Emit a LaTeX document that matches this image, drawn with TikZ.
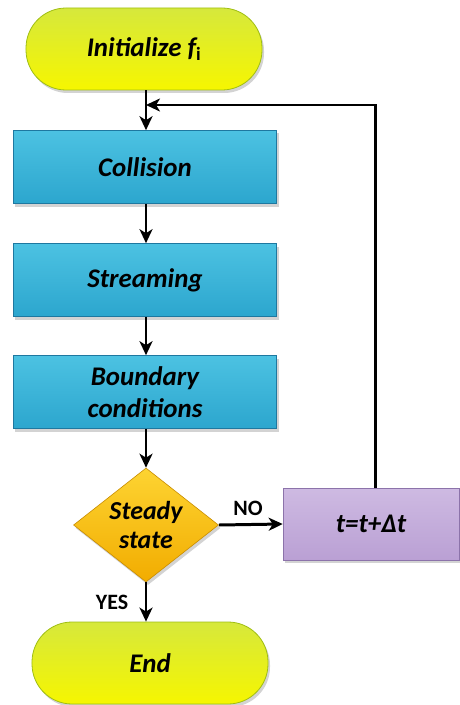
\documentclass[tikz,border=0pt]{standalone}
\usepackage{fontspec}
\setmainfont{Carlito}
\usepackage{tikz}
\usetikzlibrary{positioning,calc}
\usetikzlibrary{arrows.meta,shapes.geometric,shadows}
\definecolor{PillTop}{RGB}{214,232,60}
\definecolor{PillBot}{RGB}{246,246,0}
\definecolor{PillRim}{RGB}{160,190,20}
\definecolor{ProcTop}{RGB}{76,194,226}
\definecolor{ProcBot}{RGB}{44,166,206}
\definecolor{ProcRim}{RGB}{30,120,160}
\definecolor{GoldTop}{RGB}{253,212,50}
\definecolor{GoldBot}{RGB}{242,172,0}
\definecolor{GoldRim}{RGB}{200,140,0}
\definecolor{LilacTop}{RGB}{206,186,226}
\definecolor{LilacBot}{RGB}{186,160,212}
\definecolor{LilacRim}{RGB}{140,115,170}
\tikzset{
  soft/.style={drop shadow={opacity=0.35,shadow xshift=2bp,shadow yshift=-3bp}},
  term/.style={rectangle,rounded corners=40bp,draw=PillRim,line width=0.8pt,
    top color=PillTop,bottom color=PillBot,soft,minimum width=236bp,minimum height=82bp,
    font=\bfseries\itshape\fontsize{27}{32}\selectfont},
  proc/.style={rectangle,draw=ProcRim,line width=0.6pt,top color=ProcTop,bottom color=ProcBot,
    soft,minimum width=263bp,minimum height=73bp,align=center,
    font=\bfseries\itshape\fontsize{27}{32}\selectfont},
  decide/.style={diamond,aspect=1.27,inner sep=0pt,draw=GoldRim,line width=0.6pt,
    top color=GoldTop,bottom color=GoldBot,soft,minimum width=145bp,minimum height=114bp,
    align=center,font=\bfseries\itshape\fontsize{26}{30}\selectfont},
  incr/.style={rectangle,draw=LilacRim,line width=0.6pt,top color=LilacTop,bottom color=LilacBot,
    soft,minimum width=176bp,minimum height=72bp,font=\bfseries\itshape\fontsize{27}{32}\selectfont},
  flow/.style={draw=black,line width=3pt,-{Stealth[length=14bp,width=13bp,inset=4bp]}},
  tag/.style={font=\bfseries\fontsize{22}{26}\selectfont},
}

\begin{document}
\begin{tikzpicture}[x=1bp,y=-1bp]
\useasboundingbox (0,0) rectangle (460,705);
\node[term] (init) at (144,49) {Initialize f\textsubscript{\upshape i}};
\node[proc] (collision) at (145,167) {Collision};
\node[proc] (streaming) at (145,280) {Streaming};
\node[proc] (boundary) at (145,392) {Boundary\\conditions};
\node[decide] (steady) at (146,525) {Steady\\state};
\node[incr] (update) at (371,524) {t=t+Δt};
\node[term] (finish) at (150,663) {End};
\coordinate (join) at (146,105);
\coordinate (rise) at (375,105);
\node[tag] (no) at (248,508) {NO};
\node[tag] (yes) at (112,602) {YES};
\draw[flow] (init.south -| join) -- (collision.north -| join);
\draw[flow] (collision.south -| join) -- (streaming.north -| join);
\draw[flow] (streaming.south -| join) -- (boundary.north -| join);
\draw[flow] (boundary.south -| join) -- (steady.north);
\draw[flow] (steady.east) -- (update.west);
\draw[flow] (steady.south) -- (finish.north -| steady.south);
\draw[flow] (update.north -| rise) -- (rise) -- (join);
\end{tikzpicture}
\end{document}
